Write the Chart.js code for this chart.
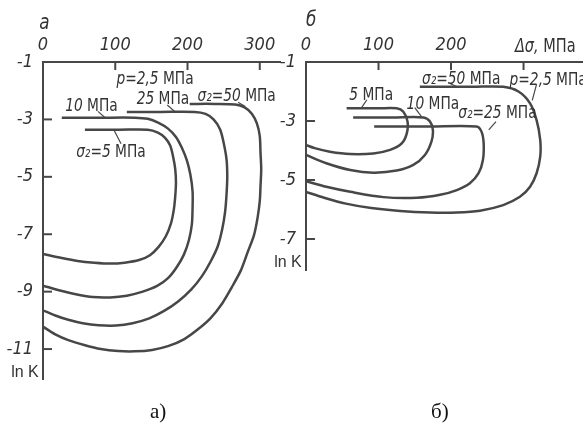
<!DOCTYPE html>
<html>
<head>
<meta charset="utf-8">
<script src="https://cdn.jsdelivr.net/npm/chart.js@4.4.0/dist/chart.umd.min.js"></script>
<style>
  body { margin: 0; background: #fff; width: 583px; height: 430px; position: relative; overflow: hidden; }
  #wrapA { position: absolute; left: 0; top: 0; width: 290px; height: 400px; }
  #wrapB { position: absolute; left: 263px; top: 0; width: 320px; height: 300px; }
  .cap { position: absolute; top: 399px; font-family: "Liberation Serif", serif; font-size: 21px; color: #111; }
</style>
</head>
<body>
<div id="wrapA"><canvas id="chartA" width="290" height="400"></canvas></div>
<div id="wrapB"><canvas id="chartB" width="320" height="300"></canvas></div>
<div class="cap" style="left:150px">а)</div>
<div class="cap" style="left:431px">б)</div>
<script>
// axis ticks
var xTicksA = [0, 100, 200, 300];
var yTicksA = [-1, -3, -5, -7, -9, -11];
var xTicksB = [0, 100, 200];
var yTicksB = [-1, -3, -5, -7];

// panel a: ln K vs Δσ (MPa), curves for σ2 = 5, 10, 25, 50 MPa
var a5X  = [58, 106, 145, 159, 169, 176, 180, 183, 184, 183, 181, 177, 170, 160, 148, 133, 113, 93, 71, 48, 26, 0];
var a5Y  = [-3.36, -3.36, -3.36, -3.46, -3.64, -3.91, -4.29, -4.73, -5.2, -5.68, -6.15, -6.63, -7.07, -7.44, -7.73, -7.9, -7.99, -8.02, -7.99, -7.93, -7.83, -7.69];
var a10X = [26, 79, 127, 145, 160, 173, 184, 192, 199, 204, 207, 207, 206, 202, 195, 185, 173, 158, 138, 116, 93, 69, 47, 25, 0];
var a10Y = [-2.94, -2.94, -2.94, -2.98, -3.12, -3.32, -3.61, -3.98, -4.42, -4.93, -5.51, -6.08, -6.66, -7.2, -7.71, -8.15, -8.53, -8.8, -9.0, -9.14, -9.2, -9.19, -9.1, -8.97, -8.79];
var a25X = [116, 162, 210, 225, 236, 245, 250, 254, 255, 254, 252, 248, 242, 232, 220, 205, 187, 167, 147, 124, 101, 77, 55, 35, 17, 0];
var a25Y = [-2.74, -2.74, -2.74, -2.81, -3.0, -3.34, -3.81, -4.39, -5.0, -5.61, -6.22, -6.83, -7.41, -7.95, -8.46, -8.93, -9.34, -9.68, -9.93, -10.1, -10.18, -10.17, -10.1, -9.98, -9.83, -9.65];
var a50X = [203, 238, 266, 279, 289, 296, 300, 301, 302, 301, 300, 297, 292, 283, 274, 261, 248, 232, 214, 195, 173, 151, 127, 104, 80, 57, 35, 17, 0];
var a50Y = [-2.46, -2.46, -2.48, -2.58, -2.8, -3.14, -3.58, -4.15, -4.73, -5.34, -5.85, -6.42, -7.03, -7.64, -8.25, -8.86, -9.41, -9.92, -10.32, -10.66, -10.9, -11.03, -11.08, -11.07, -11.0, -10.86, -10.69, -10.49, -10.22];

// panel b: same, p = 2.5 MPa
var b5X  = [56, 100, 125, 134, 140, 139, 132, 116, 93, 61, 33, 12, 0];
var b5Y  = [-2.57, -2.57, -2.57, -2.68, -3.02, -3.42, -3.76, -3.98, -4.1, -4.12, -4.04, -3.92, -3.81];
var b10X = [65, 120, 162, 171, 175, 173, 164, 148, 125, 93, 61, 28, 0];
var b10Y = [-2.88, -2.88, -2.88, -3.02, -3.31, -3.7, -4.15, -4.49, -4.68, -4.75, -4.66, -4.43, -4.15];
var b25X = [94, 170, 235, 242, 245, 244, 238, 226, 208, 185, 153, 107, 61, 28, 0];
var b25Y = [-3.19, -3.19, -3.19, -3.36, -3.76, -4.32, -4.77, -5.11, -5.34, -5.5, -5.6, -5.58, -5.4, -5.23, -5.04];
var b50X = [157, 230, 272, 293, 309, 318, 323, 323, 318, 309, 295, 272, 240, 208, 171, 130, 90, 55, 25, 0];
var b50Y = [-1.84, -1.84, -1.84, -2.0, -2.4, -2.97, -3.64, -4.21, -4.77, -5.23, -5.57, -5.85, -6.04, -6.1, -6.1, -6.05, -5.95, -5.8, -5.6, -5.4];

var ink = '#474747';
var textFont = '"DejaVu Sans Condensed", "Liberation Sans Narrow", sans-serif';

function pts(xs, ys) {
  return xs.map(function(x, i) { return {x: x, y: ys[i]}; });
}

function curve(xs, ys) {
  return {
    data: pts(xs, ys),
    showLine: true,
    borderColor: ink,
    borderWidth: 2.5,
    pointRadius: 0,
    tension: 0.3,
    fill: false
  };
}

// inward ticks, labels and leader lines
function makeAnnot(spec) {
  return {
    id: 'annot',
    afterDraw: function(chart) {
      var ctx = chart.ctx, sx = chart.scales.x, sy = chart.scales.y;
      ctx.save();
      ctx.strokeStyle = ink;
      ctx.lineWidth = 2;
      spec.xMarks.forEach(function(v) {
        var p = sx.getPixelForValue(v);
        ctx.beginPath(); ctx.moveTo(p, sy.top); ctx.lineTo(p, sy.top + 8); ctx.stroke();
      });
      spec.yMarks.forEach(function(v) {
        var p = sy.getPixelForValue(v);
        ctx.beginPath(); ctx.moveTo(sx.left, p); ctx.lineTo(sx.left + 9, p); ctx.stroke();
      });
      ctx.lineWidth = 1.2;
      spec.leaders.forEach(function(l) {
        ctx.beginPath();
        ctx.moveTo(sx.getPixelForValue(l[0]), sy.getPixelForValue(l[1]));
        ctx.lineTo(sx.getPixelForValue(l[2]), sy.getPixelForValue(l[3]));
        ctx.stroke();
      });
      ctx.fillStyle = '#333';
      ctx.textBaseline = 'middle';
      ctx.textAlign = 'left';
      spec.texts.forEach(function(t) {
        var parts = t.text.split('|');
        var fI = 'italic ' + t.size + 'px ' + textFont;
        var fN = t.size + 'px ' + (t.font || textFont);
        var sq = t.squeeze || 0.85;
        ctx.font = fI;
        var w1 = ctx.measureText(parts[0]).width;
        var w2 = 0;
        if (parts[1]) { ctx.font = fN; w2 = ctx.measureText(' ' + parts[1]).width; }
        ctx.save();
        ctx.translate(sx.getPixelForValue(t.x), sy.getPixelForValue(t.y));
        ctx.scale(sq, 1);
        var cx = -(w1 + w2) / 2;
        ctx.font = fI;
        ctx.fillText(parts[0], cx, 0);
        if (parts[1]) { ctx.font = fN; ctx.fillText(' ' + parts[1], cx + w1, 0); }
        ctx.restore();
      });
      ctx.restore();
    }
  };
}

function baseOptions(xMax, yMin, xTicks, yTicks, topH, leftW, padR, padB) {
  return {
    responsive: false,
    animation: false,
    layout: { padding: { left: 0, top: 0, right: padR, bottom: padB } },
    plugins: { legend: { display: false }, tooltip: { enabled: false } },
    scales: {
      x: {
        type: 'linear', position: 'top', min: 0, max: xMax,
        afterFit: function(s) { s.height = topH; },
        afterBuildTicks: function(s) { s.ticks = xTicks.map(function(v) { return {value: v}; }); },
        grid: { display: false, drawTicks: false },
        border: { display: true, color: ink, width: 2 },
        ticks: { padding: 6, color: '#333', font: { family: textFont, size: 18, style: 'italic' } }
      },
      y: {
        type: 'linear', position: 'left', min: yMin, max: -1,
        afterFit: function(s) { s.width = leftW; },
        afterBuildTicks: function(s) { s.ticks = yTicks.map(function(v) { return {value: v}; }); },
        grid: { display: false, drawTicks: false },
        border: { display: true, color: ink, width: 2 },
        ticks: { padding: 10, color: '#333', font: { family: textFont, size: 18, style: 'italic' } }
      }
    }
  };
}

new Chart(document.getElementById('chartA'), {
  type: 'scatter',
  data: { datasets: [curve(a5X, a5Y), curve(a10X, a10Y), curve(a25X, a25Y), curve(a50X, a50Y)] },
  options: baseOptions(328, -12.05, xTicksA, yTicksA, 62, 43, 10, 12),
  plugins: [makeAnnot({
    xMarks: [100, 200, 300],
    yMarks: [-3, -5, -7, -9, -11],
    leaders: [[76, -2.72, 86, -2.94], [172, -2.5, 183, -2.74], [270, -2.4, 280, -2.55], [108, -3.85, 98, -3.36]],
    texts: [
      {text: 'a', x: 2, y: 0.35, size: 22},
      {text: 'p=2,5|МПа', x: 155, y: -1.62, size: 18},
      {text: '25|МПа', x: 166, y: -2.3, size: 18},
      {text: 'σ₂=50|МПа', x: 268, y: -2.2, size: 18},
      {text: '10|МПа', x: 67, y: -2.56, size: 18},
      {text: 'σ₂=5|МПа', x: 94, y: -4.15, size: 18},
      {text: '|ln K', x: -28, y: -11.83, size: 16, font: '"Liberation Sans", sans-serif', squeeze: 1}
    ]
  })]
});

new Chart(document.getElementById('chartB'), {
  type: 'scatter',
  data: { datasets: [curve(b5X, b5Y), curve(b10X, b10Y), curve(b25X, b25Y), curve(b50X, b50Y)] },
  options: baseOptions(382, -8.05, xTicksB, yTicksB, 62, 43, 0, 30),
  plugins: [makeAnnot({
    xMarks: [100, 200, 300],
    yMarks: [-3, -5, -7],
    leaders: [[84, -2.28, 76, -2.57], [150, -2.55, 160, -2.88], [198, -1.72, 208, -1.84], [318, -1.75, 312, -2.3], [262, -3.02, 252, -3.3]],
    texts: [
      {text: 'б', x: 7, y: 0.42, size: 22},
      {text: 'Δσ,|МПа', x: 330, y: -0.48, size: 19},
      {text: 'σ₂=50|МПа', x: 214, y: -1.6, size: 18},
      {text: 'p=2,5|МПа', x: 334, y: -1.62, size: 18},
      {text: '5|МПа', x: 90, y: -2.12, size: 18},
      {text: '10|МПа', x: 175, y: -2.45, size: 18},
      {text: 'σ₂=25|МПа', x: 264, y: -2.73, size: 18},
      {text: '|ln K', x: -28, y: -7.8, size: 16, font: '"Liberation Sans", sans-serif', squeeze: 1}
    ]
  })]
});
</script>
</body>
</html>
